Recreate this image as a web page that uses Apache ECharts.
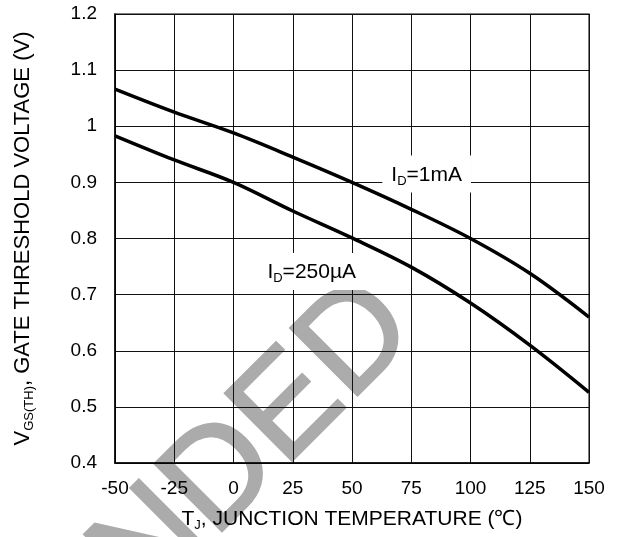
<!DOCTYPE html>
<html>
<head>
<meta charset="utf-8">
<script src="https://cdn.jsdelivr.net/npm/echarts@6/dist/echarts.min.js"></script>
<style>
html, body { margin: 0; padding: 0; background: #fff; }
#chart { width: 625px; height: 537px; }
</style>
</head>
<body>
<div id="chart"></div>
<script>
const temps = [-50, -25, 0, 25, 50, 75, 100, 125, 150];
const vth1mA = [1.066, 1.025, 0.988, 0.945, 0.900, 0.852, 0.800, 0.738, 0.660];
const vth250uA = [0.983, 0.940, 0.900, 0.849, 0.801, 0.749, 0.685, 0.610, 0.526];
const label1mA = [81.5, 0.915];
const label250uA = [33, 0.741];

const font = "Liberation Sans, Arial, sans-serif";
const chart = echarts.init(document.getElementById("chart"));

function pairs(xs, ys) {
    return xs.map(function (x, i) { return [x, ys[i]]; });
}

function richText(size) {
    // subscripts sit a few pixels under the baseline
    return {
        n: { fontFamily: font, fontSize: size, color: "#000", lineHeight: size + 4, verticalAlign: "middle" },
        s: { fontFamily: font, fontSize: 13, color: "#000", lineHeight: 13, verticalAlign: "bottom" }
    };
}

function curve(name, values, labelAt, labelText) {
    return {
        name: name,
        type: "line",
        data: pairs(temps, values),
        smooth: 0.35,
        showSymbol: false,
        lineStyle: { color: "#000", width: 3.5 },
        markPoint: {
            symbol: "rect",
            symbolSize: 0,
            silent: true,
            label: {
                show: true,
                position: "inside",
                backgroundColor: "#fff",
                padding: [7, 9, 5, 9],
                formatter: labelText,
                rich: richText(21)
            },
            data: [{ coord: labelAt }]
        }
    };
}

const option = {
    animation: false,
    backgroundColor: "#fff",
    graphic: [
        {
            type: "text",
            z: -10,
            x: 393,
            y: 306,
            rotation: Math.PI / 4,
            style: {
                text: "NOT RECOMMENDED",
                font: "138px " + font,
                fill: "#ababab",
                stroke: "#ababab",
                lineWidth: 2.5,
                textAlign: "right",
                textVerticalAlign: "middle"
            }
        }
    ],
    grid: {
        left: 115,
        right: 36,
        top: 14,
        bottom: 74,
        show: true,
        borderColor: "#555",
        borderWidth: 1.5,
        backgroundColor: "transparent"
    },
    xAxis: {
        type: "value",
        min: -50,
        max: 150,
        interval: 25,
        name: "{n|T}{s|J}{n|, JUNCTION TEMPERATURE (℃)}",
        nameLocation: "middle",
        nameGap: 44,
        nameTextStyle: { rich: richText(21) },
        axisLine: { show: true, onZero: false, lineStyle: { color: "#000", width: 1.5 } },
        axisTick: { show: false },
        axisLabel: { fontFamily: font, fontSize: 19, color: "#000", margin: 16 },
        splitLine: { show: true, lineStyle: { color: "#111", width: 1 } }
    },
    yAxis: {
        type: "value",
        min: 0.4,
        max: 1.2,
        interval: 0.1,
        name: "{n|V}{s|GS(TH)}{n|, GATE THRESHOLD VOLTAGE (V)}",
        nameLocation: "middle",
        nameGap: 79,
        nameRotate: 90,
        nameTextStyle: { rich: richText(22) },
        axisLine: { show: true, onZero: false, lineStyle: { color: "#000", width: 1.5 } },
        axisTick: { show: false },
        axisLabel: {
            fontFamily: font,
            fontSize: 19,
            color: "#000",
            margin: 18,
            formatter: function (v) { return String(+v.toFixed(1)); }
        },
        splitLine: { show: true, lineStyle: { color: "#111", width: 1 } }
    },
    series: [
        curve("1mA", vth1mA, label1mA, "{n|I}{s|D}{n|=1mA}"),
        curve("250uA", vth250uA, label250uA, "{n|I}{s|D}{n|=250µA}")
    ]
};

chart.setOption(option);
</script>
</body>
</html>
